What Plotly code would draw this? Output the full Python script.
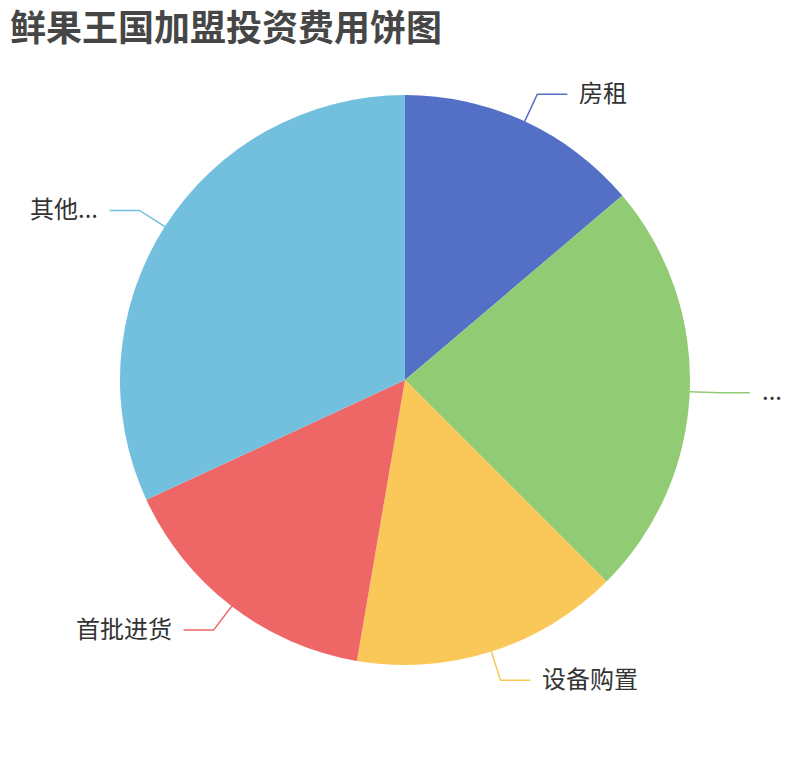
import numpy as np
import plotly.graph_objects as go

W, H = 810, 760
OFF = 8  # page body margin

labels  = ['房租', '...', '设备购置', '首批进货', '其他...']
values  = [13.8, 23.7, 15.2, 15.4, 31.9]
colors  = ['#5470c6', '#91cc75', '#fac858', '#ee6666', '#73c0de']

# pie geometry in pixels (figure coords)
CX, CY, R = 405 - OFF, 380 - OFF, 285
LEN1, LEN2, GAP = 30, 30, 10

fig = go.Figure(go.Pie(
    labels=labels,
    values=values,
    marker=dict(colors=colors, line=dict(width=0)),
    sort=False,
    direction='clockwise',
    rotation=0,
    textinfo='none',
    hoverinfo='label+value+percent',
    showlegend=False,
    domain=dict(x=[(CX - R) / W, (CX + R) / W],
                y=[1 - (CY + R) / H, 1 - (CY - R) / H]),
))

def px(x, y):
    return x / W, 1 - y / H

# leader lines + labels, placed from the slice mid angles
vals = np.array(values, dtype=float)
frac = vals / vals.sum()
mids = (np.cumsum(frac) - frac / 2) * 2 * np.pi

for lab, col, a in zip(labels, colors, mids):
    sx, cy_ = np.sin(a), np.cos(a)
    x0, y0 = CX + R * sx, CY - R * cy_
    x1, y1 = CX + (R + LEN1) * sx, CY - (R + LEN1) * cy_
    side = 1 if sx >= 0 else -1
    x2 = x1 + side * LEN2
    path = 'M {} {} L {} {} L {} {}'.format(*px(x0, y0), *px(x1, y1), *px(x2, y1))
    fig.add_shape(type='path', path=path, xref='paper', yref='paper',
                  line=dict(color=col, width=1.5))
    ax, ay = px(x2 + side * GAP, y1)
    fig.add_annotation(x=ax, y=ay, xref='paper', yref='paper',
                       text=lab, showarrow=False, yshift=3,
                       xanchor='left' if side > 0 else 'right', yanchor='middle',
                       font=dict(size=24, color='#333333'))

fig.update_layout(
    width=W, height=H,
    margin=dict(l=0, r=0, t=0, b=0),
    paper_bgcolor='white',
    plot_bgcolor='white',
    font=dict(family='Noto Sans CJK SC'),
    title=dict(
        text='鲜果王国加盟投资费用饼图',
        x=(10 - OFF) / W, xanchor='left',
        y=1 - (28 - OFF) / H, yanchor='middle',
        font=dict(size=36, color='#464646', weight='bold'),
    ),
)

fig.write_html('out.html')
